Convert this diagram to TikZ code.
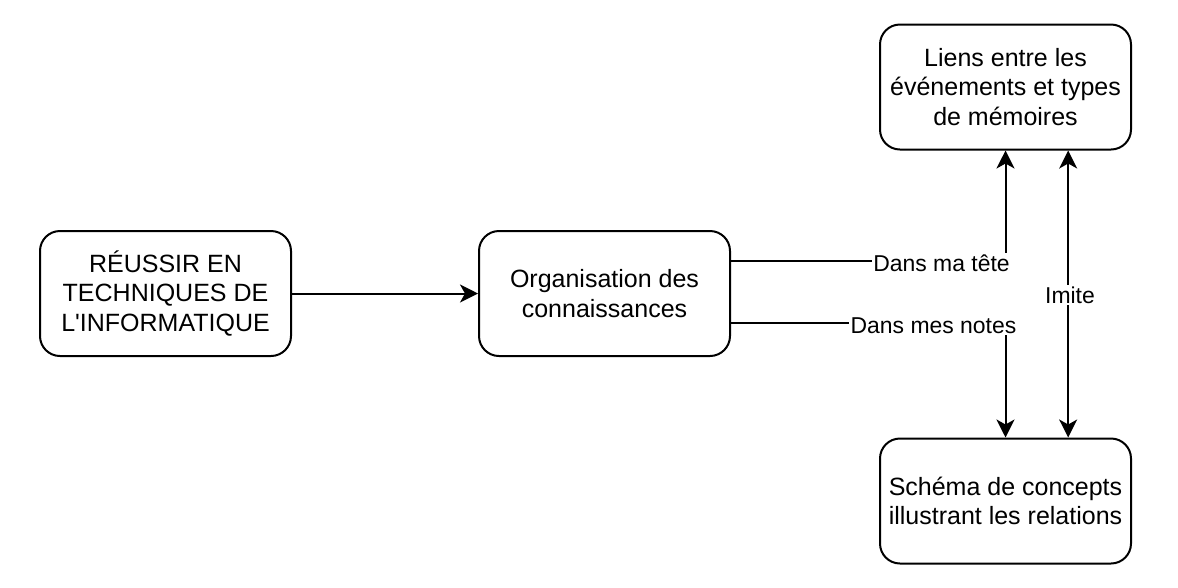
\documentclass[tikz,border=0pt]{standalone}
\usepackage{fontspec}
\setmainfont{Liberation Sans}
\usetikzlibrary{arrows.meta}
\begin{document}
\begin{tikzpicture}[x=0.75pt,y=-0.75pt,
 box/.style={draw, line width=1.5pt, rounded corners=15pt, minimum width=188.25pt, minimum height=93.75pt, align=center, font=\fontsize{18.75}{22}\selectfont, inner sep=0pt},
 conn/.style={line width=1.5pt, -{Stealth[length=13.5pt,width=13.5pt,inset=3.75pt]}},
 biconn/.style={line width=1.5pt, {Stealth[length=13.5pt,width=13.5pt,inset=3.75pt]}-{Stealth[length=13.5pt,width=13.5pt,inset=3.75pt]}},
 lbl/.style={fill=white, inner sep=1pt, font=\fontsize{17.2}{20}\selectfont}]
\useasboundingbox (0,0) rectangle (1178,587);
\node[box] (a) at (165.5,293.5) {RÉUSSIR EN\\TECHNIQUES DE\\L\textquotesingle INFORMATIQUE};
\node[box] (b) at (604.5,293.5) {Organisation des\\connaissances};
\node[box] (c) at (1005.5,87) {Liens entre les\\événements et types\\de mémoires};
\node[box] (d) at (1005.5,501) {Schéma de concepts\\illustrant les relations};
\draw[conn] (a) -- (b);
\draw[conn] ([yshift=24.4pt]b.east) -| (c.south);
\draw[conn] ([yshift=-22.3pt]b.east) -| (d.north);
\draw[biconn] ([xshift=47pt]d.north) -- ([xshift=47pt]c.south);
\node[lbl] (l1) at (941.5,263) {Dans ma tête};
\node[lbl] (l2) at (933.5,326) {Dans mes notes};
\node[lbl] (l3) at (1070,295) {Imite};
\end{tikzpicture}
\end{document}
